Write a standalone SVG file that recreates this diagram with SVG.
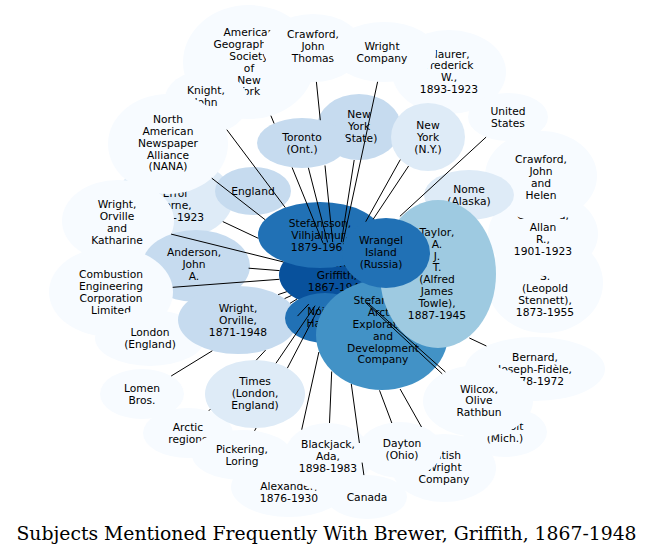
<svg xmlns="http://www.w3.org/2000/svg" width="653" height="559" viewBox="0 0 653 559">
<style>
text{font-family:"DejaVu Sans","Liberation Sans",sans-serif;font-size:10.7px;text-anchor:middle;fill:#000}
.c0{fill:#f7fbff}.c1{fill:#deebf7}.c2{fill:#c6dbef}.c3{fill:#9ecae1}.c5{fill:#4292c6}.c6{fill:#2171b5}.c7{fill:#08519c}
#edges path{stroke:#000;stroke-width:1;fill:none}
.title{font-family:"DejaVu Serif","Liberation Serif",serif;font-size:18.8px}
</style>
<rect width="653" height="559" fill="#fff"/>
<g id="nodes">
<g id="ags"><ellipse class="c0" cx="249" cy="62" rx="66" ry="57"/><text y="36.3"><tspan x="249">American</tspan><tspan x="249" dy="11.8">Geographical</tspan><tspan x="249" dy="11.8">Society</tspan><tspan x="249" dy="11.8">of</tspan><tspan x="249" dy="11.8">New</tspan><tspan x="249" dy="11.8">York</tspan></text></g>
<g id="knightJ"><ellipse class="c0" cx="206" cy="102" rx="42" ry="32"/><text y="93.8"><tspan x="206">Knight,</tspan><tspan x="206" dy="11.8">John</tspan></text></g>
<g id="crawfordJT"><ellipse class="c0" cx="313" cy="48" rx="50" ry="34"/><text y="38"><tspan x="313">Crawford,</tspan><tspan x="313" dy="11.8">John</tspan><tspan x="313" dy="11.8">Thomas</tspan></text></g>
<g id="maurer"><ellipse class="c0" cx="449" cy="72" rx="57" ry="42"/><text y="57.6"><tspan x="449">Maurer,</tspan><tspan x="449" dy="11.8">Frederick</tspan><tspan x="449" dy="11.8">W.,</tspan><tspan x="449" dy="11.8">1893-1923</tspan></text></g>
<g id="wrightCo"><ellipse class="c0" cx="384" cy="52" rx="52" ry="30"/><text y="49.9"><tspan x="382">Wright</tspan><tspan x="382" dy="11.8">Company</tspan></text></g>
<g id="us"><ellipse class="c0" cx="508" cy="117" rx="40" ry="24"/><text y="114.9"><tspan x="508">United</tspan><tspan x="508" dy="11.8">States</tspan></text></g>
<g id="nyState"><ellipse class="c2" cx="359" cy="127" rx="42" ry="33"/><text y="118"><tspan x="359">New</tspan><tspan x="359" dy="11.8">York</tspan><tspan x="359" dy="11.8">(State)</tspan></text></g>
<g id="toronto"><ellipse class="c2" cx="302" cy="143" rx="45" ry="25"/><text y="140.9"><tspan x="302">Toronto</tspan><tspan x="302" dy="11.8">(Ont.)</tspan></text></g>
<g id="nyNY"><ellipse class="c1" cx="428" cy="137" rx="37" ry="34"/><text y="129"><tspan x="428">New</tspan><tspan x="428" dy="11.8">York</tspan><tspan x="428" dy="11.8">(N.Y.)</tspan></text></g>
<g id="knightEL"><ellipse class="c1" cx="175" cy="199" rx="58" ry="40"/><text y="185.1"><tspan x="175">Knight,</tspan><tspan x="175" dy="11.8">Errol</tspan><tspan x="175" dy="11.8">Lorne,</tspan><tspan x="175" dy="11.8">1897-1923</tspan></text></g>
<g id="nana"><ellipse class="c0" cx="168" cy="144" rx="60" ry="50"/><text y="123.2"><tspan x="168">North</tspan><tspan x="168" dy="11.8">American</tspan><tspan x="168" dy="11.8">Newspaper</tspan><tspan x="168" dy="11.8">Alliance</tspan><tspan x="168" dy="11.8">(NANA)</tspan></text></g>
<g id="wrightOK"><ellipse class="c0" cx="118" cy="221" rx="56" ry="41"/><text y="208.1"><tspan x="117">Wright,</tspan><tspan x="117" dy="11.8">Orville</tspan><tspan x="117" dy="11.8">and</tspan><tspan x="117" dy="11.8">Katharine</tspan></text></g>
<g id="england"><ellipse class="c2" cx="253" cy="191" rx="38" ry="24"/><text x="253" y="194.8">England</text></g>
<g id="anderson"><ellipse class="c2" cx="196" cy="266" rx="54" ry="36"/><text y="256"><tspan x="194">Anderson,</tspan><tspan x="194" dy="11.8">John</tspan><tspan x="194" dy="11.8">A.</tspan></text></g>
<g id="combustion"><ellipse class="c0" cx="111" cy="292" rx="62" ry="45"/><text y="278.1"><tspan x="111">Combustion</tspan><tspan x="111" dy="11.8">Engineering</tspan><tspan x="111" dy="11.8">Corporation</tspan><tspan x="111" dy="11.8">Limited</tspan></text></g>
<g id="london"><ellipse class="c0" cx="150" cy="338" rx="55" ry="28"/><text y="335.9"><tspan x="150">London</tspan><tspan x="150" dy="11.8">(England)</tspan></text></g>
<g id="wo1871"><ellipse class="c2" cx="238" cy="320" rx="60" ry="34"/><text y="312"><tspan x="238">Wright,</tspan><tspan x="238" dy="11.8">Orville,</tspan><tspan x="238" dy="11.8">1871-1948</tspan></text></g>
<g id="lomen"><ellipse class="c0" cx="142" cy="394" rx="42" ry="25"/><text y="391.9"><tspan x="142">Lomen</tspan><tspan x="142" dy="11.8">Bros.</tspan></text></g>
<g id="arctic"><ellipse class="c0" cx="188" cy="433" rx="45" ry="25"/><text y="430.9"><tspan x="188">Arctic</tspan><tspan x="188" dy="11.8">regions</tspan></text></g>
<g id="alexander"><ellipse class="c0" cx="289" cy="487" rx="58" ry="30"/><text y="489.8"><tspan x="289">Alexander,</tspan><tspan x="289" dy="11.8">1876-1930</tspan></text></g>
<g id="pickering"><ellipse class="c0" cx="242" cy="455" rx="50" ry="25"/><text y="452.9"><tspan x="242">Pickering,</tspan><tspan x="242" dy="11.8">Loring</tspan></text></g>
<g id="times"><ellipse class="c1" cx="255" cy="394" rx="50" ry="34"/><text y="385"><tspan x="255">Times</tspan><tspan x="255" dy="11.8">(London,</tspan><tspan x="255" dy="11.8">England)</tspan></text></g>
<g id="blackjack"><ellipse class="c0" cx="328" cy="457" rx="44" ry="34"/><text y="448"><tspan x="328">Blackjack,</tspan><tspan x="328" dy="11.8">Ada,</tspan><tspan x="328" dy="11.8">1898-1983</tspan></text></g>
<g id="canada"><ellipse class="c0" cx="367" cy="497" rx="40" ry="22"/><text x="367" y="500.8">Canada</text></g>
<g id="britishWright"><ellipse class="c0" cx="444" cy="468" rx="52" ry="34"/><text y="459"><tspan x="444">British</tspan><tspan x="444" dy="11.8">Wright</tspan><tspan x="444" dy="11.8">Company</tspan></text></g>
<g id="dayton"><ellipse class="c0" cx="400" cy="450" rx="42" ry="28"/><text y="447.4"><tspan x="402">Dayton</tspan><tspan x="402" dy="11.8">(Ohio)</tspan></text></g>
<g id="detroit"><ellipse class="c0" cx="505" cy="432" rx="42" ry="25"/><text y="430.4"><tspan x="505">Detroit</tspan><tspan x="505" dy="11.8">(Mich.)</tspan></text></g>
<g id="bernard"><ellipse class="c0" cx="535" cy="369" rx="70" ry="32"/><text y="361"><tspan x="535">Bernard,</tspan><tspan x="535" dy="11.8">Joseph-Fidèle,</tspan><tspan x="535" dy="11.8">1878-1972</tspan></text></g>
<g id="wilcox"><ellipse class="c0" cx="478" cy="401" rx="55" ry="36"/><text y="392.5"><tspan x="479">Wilcox,</tspan><tspan x="479" dy="11.8">Olive</tspan><tspan x="479" dy="11.8">Rathbun</tspan></text></g>
<g id="amery"><ellipse class="c0" cx="545" cy="283" rx="58" ry="50"/><text y="268.6"><tspan x="545">L.</tspan><tspan x="545" dy="11.8">S.</tspan><tspan x="545" dy="11.8">(Leopold</tspan><tspan x="545" dy="11.8">Stennett),</tspan><tspan x="545" dy="11.8">1873-1955</tspan></text></g>
<g id="crawfordAllan"><ellipse class="c0" cx="543" cy="234" rx="55" ry="42"/><text y="219.1"><tspan x="543">Crawford,</tspan><tspan x="543" dy="11.8">Allan</tspan><tspan x="543" dy="11.8">R.,</tspan><tspan x="543" dy="11.8">1901-1923</tspan></text></g>
<g id="crawfordJH"><ellipse class="c0" cx="541" cy="176" rx="56" ry="45"/><text y="163.1"><tspan x="541">Crawford,</tspan><tspan x="541" dy="11.8">John</tspan><tspan x="541" dy="11.8">and</tspan><tspan x="541" dy="11.8">Helen</tspan></text></g>
<g id="nome"><ellipse class="c1" cx="469" cy="195" rx="45" ry="25"/><text y="192.9"><tspan x="469">Nome</tspan><tspan x="469" dy="11.8">(Alaska)</tspan></text></g>
<g id="brewer"><ellipse class="c7" cx="336" cy="275" rx="57" ry="33"/><text y="267"><tspan x="337">Brewer,</tspan><tspan x="337" dy="11.8">Griffith,</tspan><tspan x="337" dy="11.8">1867-1948</tspan></text></g>
<g id="noice"><ellipse class="c6" cx="325" cy="318" rx="40" ry="25"/><text y="314.9"><tspan x="324">Noice,</tspan><tspan x="324" dy="11.8">Harold</tspan></text></g>
<g id="stefV"><ellipse class="c6" cx="320" cy="235" rx="62" ry="33"/><text y="227"><tspan x="320">Stefansson,</tspan><tspan x="320" dy="11.8">Vilhjalmur,</tspan><tspan x="320" dy="11.8">1879-1962</tspan></text></g>
<g id="stefArctic"><ellipse class="c5" cx="382" cy="335" rx="66" ry="55"/><text y="304.3"><tspan x="383">Stefansson</tspan><tspan x="383" dy="11.8">Arctic</tspan><tspan x="383" dy="11.8">Exploration</tspan><tspan x="383" dy="11.8">and</tspan><tspan x="383" dy="11.8">Development</tspan><tspan x="383" dy="11.8">Company</tspan></text></g>
<g id="taylor"><ellipse class="c3" cx="438" cy="274" rx="58" ry="74"/><text y="236"><tspan x="437">Taylor,</tspan><tspan x="437" dy="11.8">A.</tspan><tspan x="437" dy="11.8">J.</tspan><tspan x="437" dy="11.8">T.</tspan><tspan x="437" dy="11.8">(Alfred</tspan><tspan x="437" dy="11.8">James</tspan><tspan x="437" dy="11.8">Towle),</tspan><tspan x="437" dy="11.8">1887-1945</tspan></text></g>
<g id="wrangel"><ellipse class="c6" cx="386" cy="253" rx="44" ry="35"/><text y="244"><tspan x="381">Wrangel</tspan><tspan x="381" dy="11.8">Island</tspan><tspan x="381" dy="11.8">(Russia)</tspan></text></g>
</g>
<g id="edges">
<path d="M322.9,242.9L292.1,167.5M274.1,123.5L270.9,115.7"/>
<path d="M332.7,242.1L325,165.5M320.3,120.2L316.4,81.9"/>
<path d="M343,242.3L377.6,81.8"/>
<path d="M365.7,221.7L400.3,159.6"/>
<path d="M399.9,216.3L486.1,137.1"/>
<path d="M285.3,207.6L226.8,129.7"/>
<path d="M265.1,219.7L211.8,178.2"/>
<path d="M258.3,238.3L222.8,221.6"/>
<path d="M327.6,242.4L308.4,167.8"/>
<path d="M341.3,242.1L354.2,160"/>
<path d="M373.2,219.2L408.6,166"/>
<path d="M469.4,338L486.4,346"/>
<path d="M367.3,302.6L445.4,372"/>
<path d="M366.1,303L442.2,373.8"/>
<path d="M331.7,371.5L329.5,423"/>
<path d="M318.9,352L301.7,429.7"/>
<path d="M351.3,384L359.4,443M362.1,462.6L363.9,475.1"/>
<path d="M379.5,390.3L391.8,423"/>
<path d="M400.1,389L421.5,427"/>
<path d="M315.1,305.7L276,363.2"/>
<path d="M319.5,306.6L287.4,368.1M256.1,428L254.6,430.8"/>
<path d="M308.8,304L297.5,316.1M265.6,350.1L256.3,360.1M210.3,409.2L208.8,410.8"/>
<path d="M297,299L290,303.3M212.3,350.8L171.2,376"/>
<path d="M286.8,291.7L278.1,294.6"/>
<path d="M291.4,295.5L284.6,298.6"/>
<path d="M283.6,262L171.1,234.1"/>
<path d="M279.5,270.6L248.6,268.2"/>
<path d="M279.4,279.3L172.7,287.3"/>
</g>
<text class="title" x="326.5" y="540">Subjects Mentioned Frequently With Brewer, Griffith, 1867-1948</text>
</svg>
